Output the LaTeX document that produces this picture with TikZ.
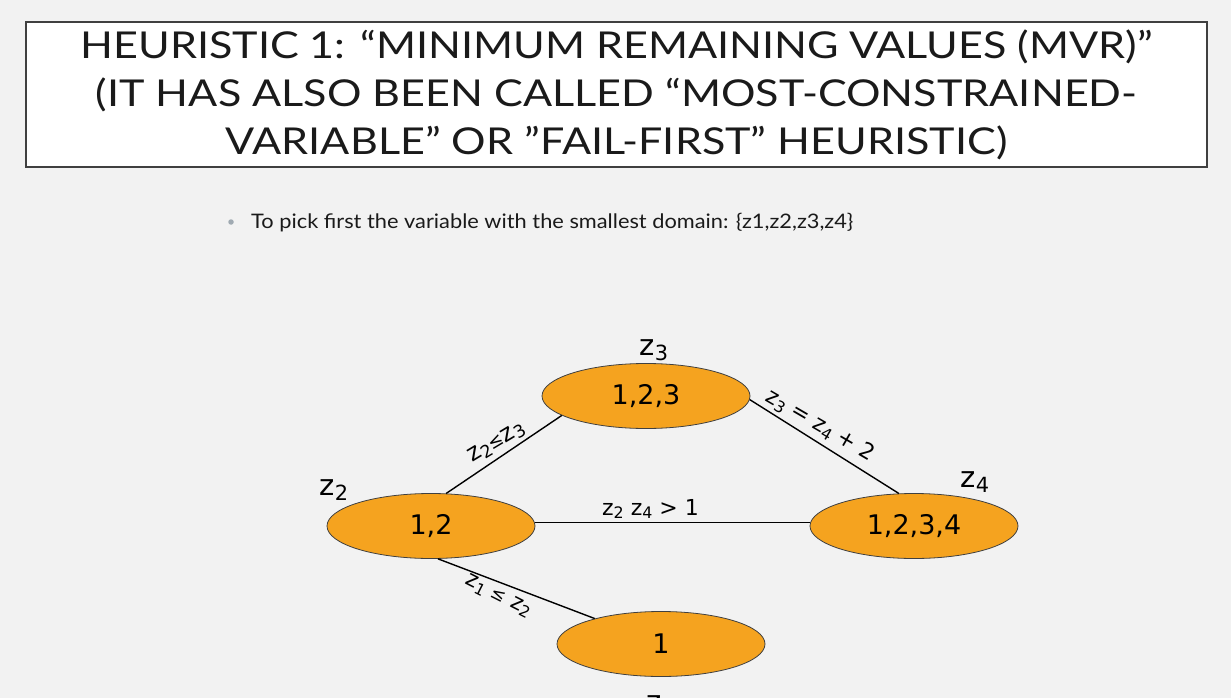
\documentclass[tikz,border=0pt]{standalone}
\usepackage{fontspec}
\setmainfont{Lato}
\newfontfamily\titlefont[FakeStretch=1.165]{Lato}
\newfontfamily\bodyfont[FakeStretch=1.09]{Lato}
\newfontfamily\vfont{DejaVu Sans}
\usepackage{graphicx}
\usetikzlibrary{shapes.geometric}
\definecolor{bg}{HTML}{F2F2F2}
\definecolor{orng}{HTML}{F5A31F}
\definecolor{edgegray}{HTML}{404040}
\definecolor{bulletgray}{HTML}{A0AAB2}
\definecolor{ink}{HTML}{1A1A1A}
\newcommand{\lo}[1]{\raisebox{-0.3ex}{\scalebox{0.72}{#1}}}
\begin{document}
\begin{tikzpicture}[x=1pt,y=-1pt,
  dom/.style={ellipse, draw=edgegray, line width=0.8pt, fill=orng, minimum width=208pt, minimum height=65pt, inner sep=0pt, font=\vfont\fontsize{27}{32}\selectfont},
  varlab/.style={font=\vfont\fontsize{29}{34}\selectfont, inner sep=0pt},
  con/.style={line width=1.4pt, black},
  conlab/.style={font=\vfont\fontsize{22}{26}\selectfont, inner sep=1pt},
]
\fill[bg] (0,0) rectangle (1231,698);
\useasboundingbox (0,0) rectangle (1231,698);
\clip (0,0) rectangle (1231,698);

\node[draw=edgegray, line width=2.8pt, fill=white, minimum width=1181pt, minimum height=145pt, inner sep=0pt, align=center, font=\titlefont\fontsize{37}{48}\selectfont, text=ink] (title) at (616.5,94.5)
  {HEURISTIC 1: “MINIMUM REMAINING VALUES (MVR)”\\(IT HAS ALSO BEEN CALLED “MOST-CONSTRAINED-\\VARIABLE” OR ”FAIL-FIRST” HEURISTIC)};

\node[circle, fill=bulletgray, inner sep=0pt, minimum size=5.5pt] (bul) at (231,222) {};
\node[anchor=west, font=\bodyfont\fontsize{20}{24}\selectfont, inner sep=0pt, text=ink] (btext) at (251,223)
  {To pick first the variable with the smallest domain: \{z1,z2,z3,z4\}};

\node[dom] (z3) at (646,396) {1,2,3};
\node[dom] (z2) at (431,526) {1,2};
\node[dom] (z4) at (914,526) {1,2,3,4};
\node[dom] (z1) at (661,644) {1};

\node[varlab] (l3) at (654,350) {z\lo{3}};
\node[varlab] (l2) at (334,490) {z\lo{2}};
\node[varlab] (l4) at (975,482) {z\lo{4}};
\node[varlab, anchor=north] (l1) at (661,695) {z\lo{1}};

\draw[con] (z2.65) -- node[conlab, sloped, above=3pt, pos=0.5, rotate=-3, font=\vfont\fontsize{24}{28}\selectfont] {z\lo{2}\scalebox{0.75}{≤}z\lo{3}} (z3.193);
\draw[con] (z3.-2) -- node[conlab, sloped, above=4pt, pos=0.42, rotate=2] {z\lo{3} = z\lo{4} + 2} (z4.115);
\draw[con] (z2.2) -- node[conlab, above=2pt, pos=0.42] {z\lo{2} z\lo{4} > 1} (z4.178);
\draw[con] (z2.282) -- node[conlab, sloped, below=4pt, pos=0.42, rotate=-6] {z\lo{1} \scalebox{0.8}{≤} z\lo{2}} (z1.159);
\end{tikzpicture}
\end{document}
